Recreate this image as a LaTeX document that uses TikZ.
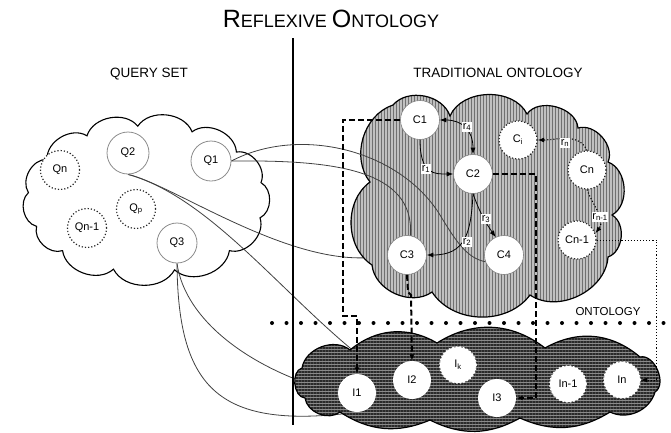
\documentclass[tikz,border=0pt]{standalone}
\usepackage{fontspec}
\setmainfont{Liberation Sans}
\usetikzlibrary{arrows.meta,patterns.meta}
\pgfdeclarelayer{lzero}\pgfdeclarelayer{lone}\pgfdeclarelayer{ltwo}
\pgfsetlayers{lzero,lone,ltwo,main}
\definecolor{tradbg}{HTML}{C0C0C0}
\definecolor{tradln}{HTML}{707070}
\definecolor{instbg}{HTML}{8A8A8A}
\definecolor{instln}{HTML}{2A2A2A}
\begin{document}
\begin{tikzpicture}[x=1pt,y=1pt,
  lbl/.style={font=\fontsize{11}{13}\selectfont},
  qnode/.style={circle,inner sep=0pt,minimum size=40pt,draw=black!45,line width=0.8pt,fill=white,lbl},
  qdot/.style={circle,inner sep=0pt,minimum size=39pt,draw=black!85,dotted,line width=1.2pt,fill=white,lbl},
  cnode/.style={circle,inner sep=0pt,minimum size=39pt,draw=black!50,line width=0.6pt,fill=white,lbl},
  cdot/.style={circle,inner sep=0pt,minimum size=38pt,draw=black!85,dotted,line width=1.2pt,fill=white,lbl},
  inode/.style={circle,inner sep=0pt,minimum size=38pt,fill=white,draw=none,lbl},
  idot/.style={circle,inner sep=0pt,minimum size=36pt,fill=white,draw=white,dotted,line width=1.6pt,lbl},
  rlab/.style={fill=white,inner sep=0.8pt,font=\fontsize{11}{12}\selectfont},
  qline/.style={draw=black!75,line width=0.8pt},
  tip/.style={-{Latex[length=6.5pt,width=5pt]}},
  dtip/.style={{Latex[length=6.5pt,width=5pt]}-{Latex[length=6.5pt,width=5pt]}},
  dashc/.style={line width=2pt,dash pattern=on 6pt off 3pt},
  dotc/.style={line width=1.1pt,dotted},
  hdr/.style={font=\fontsize{13.5}{15}\selectfont,anchor=base}
]
\useasboundingbox (0,0) rectangle (671,-432);

% titles
\node[anchor=base] (title) at (331,-27) {{\fontsize{25}{25}\selectfont R}{\fontsize{18}{18}\selectfont EFLEXIVE}\hspace{5pt}{\fontsize{25}{25}\selectfont O}{\fontsize{18}{18}\selectfont NTOLOGY}};
\node[hdr] (qset) at (149,-77) {QUERY SET};
\node[hdr] (trad) at (498,-77) {TRADITIONAL ONTOLOGY};
\node[anchor=base,font=\fontsize{11.5}{13}\selectfont] (onto) at (608,-315) {ONTOLOGY};

% query nodes
\node[qnode,minimum size=42pt] (Q2) at (128,-153) {Q2};
\node[qnode] (Q1) at (211,-161) {Q1};
\node[qnode] (Q3) at (177,-243) {Q3};
\node[qdot] (Qn) at (60,-170) {Qn};
\node[qdot] (Qp) at (136,-209) {Q\textsubscript{p}};
\node[qdot] (Qnm) at (87,-228) {Qn-1};

% concept nodes
\node[cnode] (C1) at (420,-120) {C1};
\node[cnode] (C2) at (473,-174) {C2};
\node[cnode] (C3) at (407,-255) {C3};
\node[cnode] (C4) at (504,-255) {C4};
\node[cdot] (Ci) at (518,-140) {C\textsubscript{i}};
\node[cdot] (Cn) at (587,-170) {Cn};
\node[cdot] (Cnm) at (577,-240) {Cn-1};

% instance nodes
\node[inode] (I1) at (357,-393) {I1};
\node[inode] (I2) at (412,-380) {I2};
\node[inode] (I3) at (497,-398) {I3};
\node[idot] (Ik) at (458,-365) {I\textsubscript{k}};
\node[idot] (Inm) at (568,-384) {In-1};
\node[idot] (In) at (622,-380) {In};

% clouds
\begin{pgfonlayer}{lzero}
\draw[line width=1.1pt,fill=white] ({146+118*cos(175)},{-199+73*sin(175)})
  foreach \a in {147,120,94,67,40,13,-15,-45,-76,-106,-135,-158,-185} {
    to[bend left=62] ({146+118*cos(\a)},{-199+73*sin(\a)}) } -- cycle;
\end{pgfonlayer}

\begin{pgfonlayer}{lone}
\draw[qline] (Q2.south) .. controls (175,-185) and (300,-275) .. (C3.west);
\draw[qline] (Q2.south) .. controls (220,-200) and (300,-320) .. (I2.west);
\draw[qline] (Q3.south) .. controls (185,-320) and (250,-370) .. (I1.west);
\draw[qline] (Q3.south) .. controls (178,-390) and (220,-430) .. (I1.south);
\end{pgfonlayer}

\begin{pgfonlayer}{ltwo}
\draw[line width=1.2pt,preaction={fill=tradbg},
  pattern={Lines[angle=90,distance=3pt,line width=1pt]},pattern color=tradln]
  (372,-265) to[bend left=55] (370,-182) to[bend left=55] (393,-105)
  to[bend left=60] (450,-116) to[bend left=65] (527,-114) to[bend left=70] (578,-128)
  to[bend left=65] (608,-162) to[bend left=65] (612,-215) to[bend left=65] (608,-257)
  to[bend left=60] (530,-295) to[bend left=55] (432,-292) to[bend left=60] (372,-265) -- cycle;
\draw[line width=1.2pt,preaction={fill=instbg},
  pattern={Lines[angle=0,distance=3pt,line width=1.4pt]},pattern color=instln]
  (302,-368) to[bend left=60] (350,-350) to[bend left=35] (437,-343) to[bend left=35] (545,-348)
  to[bend left=35] (640,-357) to[bend left=80] (655,-392) to[bend left=50] (610,-412)
  to[bend left=28] (520,-418) to[bend left=28] (430,-420) to[bend left=28] (340,-412)
  to[bend left=60] (305,-398) to[bend left=80] (302,-368) -- cycle;
\end{pgfonlayer}

% divider and dotted row
\draw[line width=1.8pt] (293,-38) -- (293,-425);
\draw[line width=4pt,line cap=round,dash pattern=on 0pt off 14.5pt] (272,-323) -- (671,-323);

% query connectors (visible)
\draw[qline] (Q1.east) .. controls (300,-125) and (400,-150) .. (440,-215) .. controls (458,-245) and (468,-258) .. (C4.200);
\draw[qline] (Q1.east) .. controls (330,-160) and (415,-168) .. (C3.80);

% relations
\draw[dtip,line width=0.8pt] (C1.east) .. controls (462,-120) and (473,-130) .. (C2.north);
\draw[tip,line width=0.8pt] (C1.south) .. controls (420,-175) and (435,-174) .. (C2.west);
\draw[tip,line width=0.8pt] (C2.south) to[out=-70,in=125] (C4.115);
\draw[tip,line width=0.8pt] (C2.south) to[out=-93,in=0,looseness=1.3] (C3.east);
\draw[tip,dotc] (Cn.north) to[out=115,in=0] (Ci.east);
\draw[tip,dotc] (Cn.south) .. controls (593,-206) and (606,-219) .. (Cnm.20);
\node[rlab] (r4) at (467,-127) {r\textsubscript{4}};
\node[rlab] (r1) at (426,-169) {r\textsubscript{1}};
\node[rlab] (r3) at (486,-219) {r\textsubscript{3}};
\node[rlab] (r2) at (467,-242) {r\textsubscript{2}};
\node[rlab] (rn) at (565,-143) {r\textsubscript{n}};
\node[rlab] (rnm) at (600,-217) {r\textsubscript{n-1}};

% links to instances
\draw[dashc,tip] (C1.west) -| (343,-316) -| (I1.north);
\draw[dashc,tip] (C3.south) -- (408,-292) -- (411,-295) -- (I2.north);
\draw[dashc,tip] (C2.east) -- ++(43,0) |- (I3.east);
\draw[dotc,line width=1pt,tip] (Cnm.east) -- ++(60,0) |- (In.east);
\end{tikzpicture}
\end{document}
